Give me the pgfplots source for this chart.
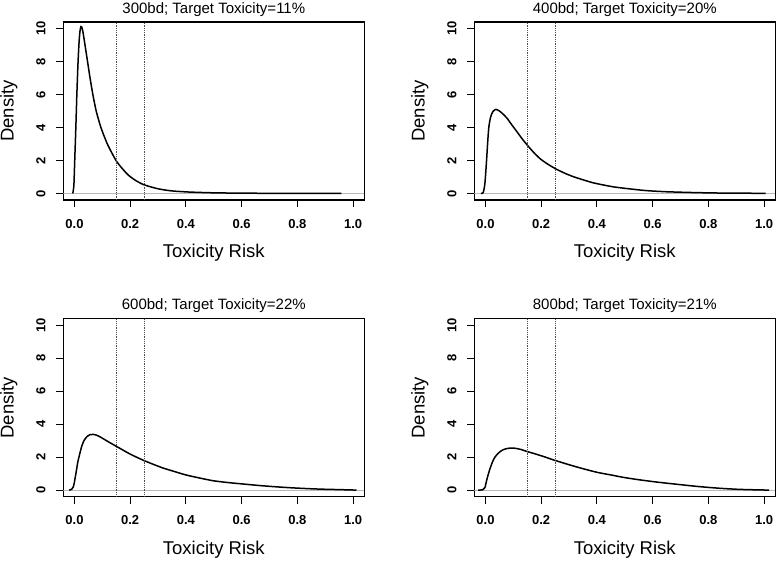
\documentclass[border=0pt]{standalone}
\usepackage{fontspec}
\setmainfont{Liberation Sans}
\usepackage{pgfplots}
\pgfplotsset{compat=1.18}

% density curves
\usepackage{pgfplotstable}
\pgfplotstableread{
x y
-0.006 0
-0.002 0.5
0.001 2
0.005 4
0.0086 6
0.013 8
0.017 9.3
0.020 9.85
0.023 10.12
0.026 10.1
0.030 9.85
0.037 9.1
0.047 8
0.056 7
0.066 6
0.078 5
0.095 4
0.118 3
0.149 2
0.172 1.5
0.194 1.1
0.22 0.78
0.25 0.52
0.30 0.28
0.35 0.15
0.415 0.08
0.5 0.035
0.6 0.015
0.7 0.006
0.8 0.003
0.958 0.0
}\dA
\pgfplotstableread{
x y
-0.016 0
-0.008 0.05
-0.002 0.6
0.004 2
0.008 3.1
0.012 4
0.018 4.6
0.026 4.95
0.037 5.1
0.050 5.0
0.064 4.8
0.078 4.55
0.095 4.15
0.114 3.72
0.130 3.35
0.150 2.93
0.175 2.45
0.198 2.08
0.225 1.76
0.250 1.51
0.285 1.22
0.318 1.0
0.355 0.8
0.39 0.63
0.462 0.39
0.57 0.18
0.65 0.1
0.75 0.05
0.85 0.02
0.95 0.01
1.005 0.0
}\dB
\pgfplotstableread{
x y
-0.019 0
-0.010 0.05
-0.004 0.2
0.000 0.5
0.007 1.18
0.012 1.7
0.019 2.2
0.026 2.65
0.034 3.0
0.045 3.25
0.055 3.36
0.067 3.38
0.080 3.33
0.095 3.2
0.115 3.0
0.130 2.85
0.151 2.65
0.175 2.42
0.198 2.2
0.225 1.98
0.25 1.79
0.285 1.55
0.318 1.34
0.36 1.12
0.40 0.92
0.45 0.73
0.497 0.57
0.55 0.46
0.605 0.37
0.676 0.26
0.75 0.17
0.80 0.12
0.85 0.08
0.90 0.05
0.95 0.03
1.012 0.0
}\dC
\pgfplotstableread{
x y
-0.026 0
-0.010 0.02
-0.002 0.15
0.004 0.57
0.010 0.95
0.016 1.28
0.025 1.7
0.034 2.0
0.045 2.22
0.058 2.4
0.072 2.5
0.088 2.55
0.105 2.54
0.124 2.48
0.15 2.34
0.184 2.17
0.215 2.0
0.25 1.8
0.304 1.52
0.35 1.3
0.4 1.08
0.45 0.92
0.496 0.77
0.55 0.63
0.604 0.51
0.65 0.42
0.7 0.33
0.75 0.24
0.796 0.17
0.85 0.1
0.904 0.05
0.95 0.025
1.018 0.0
}\dD

\pgfplotsset{
  rpanel/.style={
    scale only axis, width=301pt, height=178pt,
    anchor=south west,
    xmin=-0.04, xmax=1.04, ymin=-0.4, ymax=10.4,
    axis line style={line width=1.1pt},
    xtick={0,0.2,0.4,0.6,0.8,1}, ytick={0,2,4,6,8,10},
    tick align=outside, xtick pos=bottom, ytick pos=left,
    major tick length=7.5pt,
    tick style={black, line width=0.9pt},
    /pgf/number format/assume math mode=true,
    ticklabel style={font=\bfseries\fontsize{13}{13}\selectfont},
    x tick label style={/pgf/number format/fixed,
      /pgf/number format/fixed zerofill, /pgf/number format/precision=1,
      anchor=center, yshift=-16.3pt},
    % rotated labels: yshift moves them to the left
    y tick label style={rotate=90, anchor=center, yshift=15pt},
    xlabel={Toxicity Risk}, ylabel={Density},
    label style={font=\fontsize{18.5}{18.5}\selectfont},
    xlabel style={at={(0.5,0)}, anchor=base, yshift=-58pt},
    ylabel style={at={(0,0.5)}, anchor=center, yshift=54.5pt},
    title style={font=\fontsize{15}{15}\selectfont, at={(0.5,1)}, anchor=base, yshift=2.8pt},
    clip=true,
  },
  curve/.style={black, line width=1.5pt, smooth, tension=0.4},
  zline/.style={gray!55, line width=0.9pt},
  vref/.style={black!70, line width=0.8pt, densely dotted},
}

\begin{document}
\begin{tikzpicture}
\useasboundingbox (0,0) rectangle (777pt,560pt);

\begin{axis}[rpanel, at={(63.3pt,360pt)}, title={300bd; Target Toxicity=11\%}]
  \addplot[zline] coordinates {(-0.04,0) (1.04,0)};
  \addplot[curve] table[x=x,y=y]{\dA};
  \addplot[vref] coordinates {(0.15,-0.4) (0.15,10.4)};
  \addplot[vref] coordinates {(0.25,-0.4) (0.25,10.4)};
\end{axis}

\begin{axis}[rpanel, at={(474.3pt,360pt)}, title={400bd; Target Toxicity=20\%}]
  \addplot[zline] coordinates {(-0.04,0) (1.04,0)};
  \addplot[curve] table[x=x,y=y]{\dB};
  \addplot[vref] coordinates {(0.15,-0.4) (0.15,10.4)};
  \addplot[vref] coordinates {(0.25,-0.4) (0.25,10.4)};
\end{axis}

\begin{axis}[rpanel, at={(63.3pt,63.3pt)}, title={600bd; Target Toxicity=22\%}]
  \addplot[zline] coordinates {(-0.04,0) (1.04,0)};
  \addplot[curve] table[x=x,y=y]{\dC};
  \addplot[vref] coordinates {(0.15,-0.4) (0.15,10.4)};
  \addplot[vref] coordinates {(0.25,-0.4) (0.25,10.4)};
\end{axis}

\begin{axis}[rpanel, at={(474.3pt,63.3pt)}, title={800bd; Target Toxicity=21\%}]
  \addplot[zline] coordinates {(-0.04,0) (1.04,0)};
  \addplot[curve] table[x=x,y=y]{\dD};
  \addplot[vref] coordinates {(0.15,-0.4) (0.15,10.4)};
  \addplot[vref] coordinates {(0.25,-0.4) (0.25,10.4)};
\end{axis}
\end{tikzpicture}
\end{document}
